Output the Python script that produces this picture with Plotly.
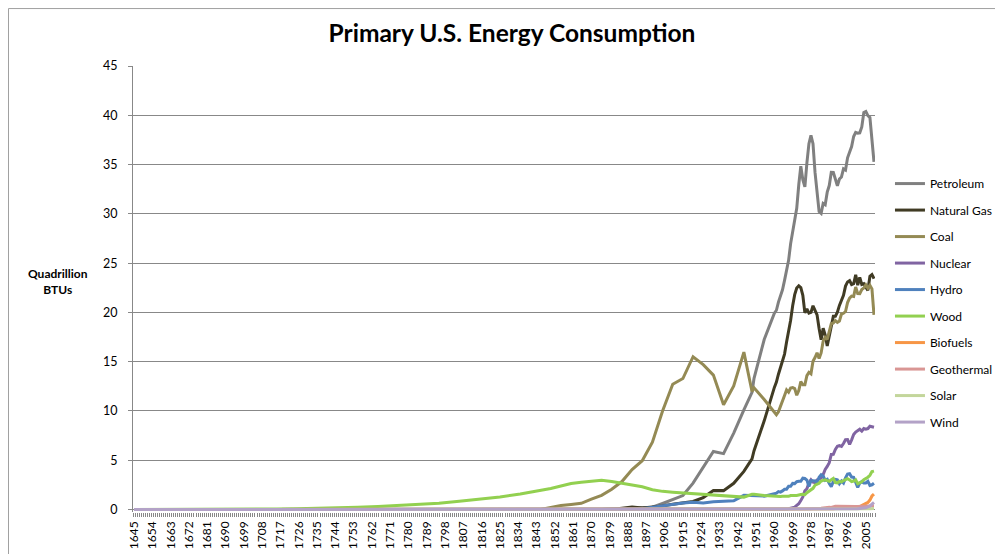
"""Primary U.S. energy consumption by source, 1645-2009 (Excel-style line chart)."""

import plotly.graph_objects as go

# Years that carry a value; the gaps between them are bridged by the line.
YEARS = [
    1645, 1655, 1665, 1675, 1685, 1695, 1705, 1715, 1725, 1735, 1745,
    1755, 1765, 1775, 1785, 1795, 1805, 1815, 1825, 1835, 1845,
    1850, 1855, 1860, 1865, 1870, 1875, 1880, 1885, 1890, 1895,
    1900, 1905, 1910, 1915, 1920, 1925, 1930, 1935, 1940, 1945,
    1949, 1950, 1955,
    1960, 1961, 1962, 1963, 1964, 1965, 1966, 1967, 1968, 1969,
    1970, 1971, 1972, 1973, 1974, 1975, 1976, 1977, 1978, 1979,
    1980, 1981, 1982, 1983, 1984, 1985, 1986, 1987, 1988, 1989,
    1990, 1991, 1992, 1993, 1994, 1995, 1996, 1997, 1998, 1999,
    2000, 2001, 2002, 2003, 2004, 2005, 2006, 2007, 2008, 2009,
]

TICK_YEARS = [
    1645, 1654, 1663, 1672, 1681, 1690, 1699, 1708, 1717, 1726, 1735,
    1744, 1753, 1762, 1771, 1780, 1789, 1798, 1807, 1816, 1825, 1834,
    1843, 1852, 1861, 1870, 1879, 1888, 1897, 1906, 1915, 1924, 1933,
    1942, 1951, 1960, 1969, 1978, 1987, 1996, 2005,
]

# quadrillion BTUs, aligned with YEARS
PETROLEUM = [
    0, 0, 0, 0, 0, 0, 0, 0, 0, 0, 0,
    0, 0, 0, 0, 0, 0, 0, 0, 0, 0,
    0, 0, 0.003, 0.006, 0.011, 0.011, 0.096, 0.04, 0.156, 0.168,
    0.229, 0.61, 1.007, 1.418, 2.676, 4.28, 5.897, 5.675, 7.76, 10.11,
    11.88, 13.32, 17.25,
    19.92, 20.22, 21.05, 21.70, 22.30, 23.25, 24.40, 25.28, 26.98, 28.34,
    29.52, 30.56, 32.95, 34.84, 33.46, 32.73, 35.18, 37.12, 37.97, 37.12,
    34.20, 31.93, 30.23, 30.05, 31.05, 30.92, 32.20, 32.87, 34.22, 34.21,
    33.55, 32.85, 33.53, 33.74, 34.56, 34.44, 35.68, 36.16, 36.82, 37.84,
    38.26, 38.19, 38.22, 38.81, 40.29, 40.39, 39.96, 39.77, 37.28, 35.27,
]
NATURAL_GAS = [
    0, 0, 0, 0, 0, 0, 0, 0, 0, 0, 0,
    0, 0, 0, 0, 0, 0, 0, 0, 0, 0,
    0, 0, 0, 0, 0, 0, 0, 0.143, 0.257, 0.147,
    0.252, 0.372, 0.54, 0.673, 0.813, 1.212, 1.932, 1.919, 2.665, 3.871,
    5.15, 5.97, 9.00,
    12.39, 12.93, 13.73, 14.40, 15.29, 15.77, 17.00, 17.94, 19.21, 20.68,
    21.80, 22.47, 22.70, 22.51, 21.73, 19.95, 20.35, 19.93, 20.00, 20.67,
    20.24, 19.75, 18.36, 17.22, 18.39, 17.70, 16.59, 17.64, 18.45, 19.60,
    19.60, 20.03, 20.71, 21.23, 21.73, 22.67, 23.09, 23.22, 22.83, 22.91,
    23.82, 22.77, 23.56, 22.83, 22.92, 22.56, 22.24, 23.66, 23.84, 23.42,
]
COAL = [
    0, 0, 0, 0, 0, 0, 0, 0, 0, 0, 0,
    0, 0, 0, 0, 0, 0, 0, 0, 0, 0,
    0.219, 0.421, 0.518, 0.632, 1.048, 1.44, 2.054, 2.84, 4.062, 4.95,
    6.841, 10.001, 12.714, 13.294, 15.504, 14.706, 13.639, 10.634, 12.535, 15.972,
    11.98, 12.35, 11.17,
    9.84, 9.62, 9.91, 10.41, 10.96, 11.58, 12.14, 11.91, 12.33, 12.38,
    12.27, 11.60, 12.08, 12.97, 12.66, 12.66, 13.58, 13.92, 13.77, 15.04,
    15.42, 15.91, 15.32, 15.89, 17.07, 17.48, 17.26, 18.01, 18.85, 18.93,
    19.17, 18.99, 19.12, 19.84, 19.91, 20.09, 21.00, 21.45, 21.66, 21.62,
    22.58, 21.91, 21.90, 22.32, 22.47, 22.80, 22.45, 22.75, 22.39, 19.76,
]
NUCLEAR = [
    0, 0, 0, 0, 0, 0, 0, 0, 0, 0, 0,
    0, 0, 0, 0, 0, 0, 0, 0, 0, 0,
    0, 0, 0, 0, 0, 0, 0, 0, 0, 0,
    0, 0, 0, 0, 0, 0, 0, 0, 0, 0,
    0, 0, 0,
    0.006, 0.02, 0.026, 0.038, 0.04, 0.043, 0.064, 0.088, 0.142, 0.154,
    0.239, 0.413, 0.584, 0.91, 1.272, 1.9, 2.111, 2.702, 3.024, 2.776,
    2.739, 3.008, 3.131, 3.203, 3.553, 4.076, 4.38, 4.754, 5.587, 5.602,
    6.104, 6.422, 6.479, 6.41, 6.694, 7.075, 7.087, 6.597, 7.068, 7.61,
    7.862, 8.029, 8.145, 7.96, 8.222, 8.161, 8.215, 8.455, 8.427, 8.356,
]
HYDRO = [
    0, 0, 0, 0, 0, 0, 0, 0, 0, 0, 0,
    0, 0, 0, 0, 0, 0, 0, 0, 0, 0,
    0, 0, 0, 0, 0, 0, 0, 0, 0.022, 0.09,
    0.25, 0.386, 0.539, 0.659, 0.738, 0.668, 0.785, 0.831, 0.88, 1.442,
    1.42, 1.42, 1.36,
    1.61, 1.66, 1.82, 1.77, 1.89, 2.06, 2.06, 2.35, 2.35, 2.65,
    2.63, 2.82, 2.86, 2.86, 3.18, 3.15, 2.98, 2.33, 2.94, 2.93,
    2.90, 2.76, 3.27, 3.53, 3.39, 2.97, 3.07, 2.63, 2.33, 2.84,
    3.05, 3.02, 2.62, 2.89, 2.68, 3.21, 3.59, 3.64, 3.30, 3.27,
    2.81, 2.24, 2.69, 2.83, 2.69, 2.70, 2.87, 2.45, 2.51, 2.67,
]
WOOD = [
    0.0, 0.0, 0.01, 0.01, 0.02, 0.03, 0.04, 0.06, 0.09, 0.12, 0.17,
    0.23, 0.31, 0.40, 0.51, 0.65, 0.83, 1.03, 1.28, 1.58, 1.93,
    2.138, 2.389, 2.641, 2.767, 2.893, 2.975, 2.851, 2.683, 2.515, 2.306,
    2.015, 1.843, 1.765, 1.688, 1.61, 1.533, 1.455, 1.397, 1.358, 1.261,
    1.55, 1.56, 1.42,
    1.32, 1.29, 1.30, 1.32, 1.34, 1.33, 1.37, 1.34, 1.42, 1.46,
    1.43, 1.43, 1.50, 1.53, 1.54, 1.50, 1.71, 1.84, 2.04, 2.15,
    2.48, 2.60, 2.66, 2.90, 2.97, 3.02, 2.93, 2.87, 3.02, 3.16,
    2.73, 2.71, 2.85, 2.80, 2.94, 3.07, 3.13, 3.01, 2.84, 2.89,
    3.01, 2.62, 2.71, 2.81, 3.02, 3.12, 3.28, 3.47, 3.85, 3.90,
]
BIOFUELS = [
    0, 0, 0, 0, 0, 0, 0, 0, 0, 0, 0,
    0, 0, 0, 0, 0, 0, 0, 0, 0, 0,
    0, 0, 0, 0, 0, 0, 0, 0, 0, 0,
    0, 0, 0, 0, 0, 0, 0, 0, 0, 0,
    0, 0, 0,
    0, 0, 0, 0, 0, 0, 0, 0, 0, 0,
    0, 0, 0, 0, 0, 0, 0, 0, 0, 0,
    0, 0.013, 0.019, 0.035, 0.043, 0.05, 0.064, 0.071, 0.069, 0.071,
    0.111, 0.12, 0.13, 0.15, 0.17, 0.198, 0.14, 0.16, 0.18, 0.19,
    0.233, 0.254, 0.308, 0.402, 0.487, 0.564, 0.72, 0.962, 1.372, 1.567,
]
GEOTHERMAL = [
    0, 0, 0, 0, 0, 0, 0, 0, 0, 0, 0,
    0, 0, 0, 0, 0, 0, 0, 0, 0, 0,
    0, 0, 0, 0, 0, 0, 0, 0, 0, 0,
    0, 0, 0, 0, 0, 0, 0, 0, 0, 0,
    0, 0, 0,
    0.001, 0.002, 0.002, 0.004, 0.004, 0.004, 0.004, 0.007, 0.007, 0.01,
    0.011, 0.012, 0.031, 0.043, 0.053, 0.07, 0.078, 0.077, 0.064, 0.084,
    0.11, 0.123, 0.105, 0.129, 0.165, 0.198, 0.219, 0.229, 0.217, 0.317,
    0.336, 0.346, 0.349, 0.364, 0.338, 0.294, 0.316, 0.325, 0.328, 0.331,
    0.317, 0.311, 0.328, 0.331, 0.341, 0.343, 0.343, 0.349, 0.358, 0.373,
]
SOLAR = [
    0, 0, 0, 0, 0, 0, 0, 0, 0, 0, 0,
    0, 0, 0, 0, 0, 0, 0, 0, 0, 0,
    0, 0, 0, 0, 0, 0, 0, 0, 0, 0,
    0, 0, 0, 0, 0, 0, 0, 0, 0, 0,
    0, 0, 0,
    0, 0, 0, 0, 0, 0, 0, 0, 0, 0,
    0, 0, 0, 0, 0, 0, 0, 0, 0, 0,
    0, 0, 0, 0, 0, 0, 0, 0, 0, 0.055,
    0.06, 0.063, 0.064, 0.066, 0.069, 0.07, 0.071, 0.07, 0.07, 0.069,
    0.066, 0.065, 0.063, 0.062, 0.063, 0.066, 0.072, 0.081, 0.097, 0.109,
]
WIND = [
    0, 0, 0, 0, 0, 0, 0, 0, 0, 0, 0,
    0, 0, 0, 0, 0, 0, 0, 0, 0, 0,
    0, 0, 0, 0, 0, 0, 0, 0, 0, 0,
    0, 0, 0, 0, 0, 0, 0, 0, 0, 0,
    0, 0, 0,
    0, 0, 0, 0, 0, 0, 0, 0, 0, 0,
    0, 0, 0, 0, 0, 0, 0, 0, 0, 0,
    0, 0, 0, 0, 0, 0, 0, 0, 0, 0.022,
    0.029, 0.031, 0.03, 0.031, 0.036, 0.033, 0.033, 0.034, 0.031, 0.046,
    0.057, 0.07, 0.105, 0.115, 0.142, 0.178, 0.264, 0.341, 0.546, 0.721,
]

SERIES = [
    ("Petroleum", PETROLEUM, "#808080"),
    ("Natural Gas", NATURAL_GAS, "#403B24"),
    ("Coal", COAL, "#948A54"),
    ("Nuclear", NUCLEAR, "#8064A2"),
    ("Hydro", HYDRO, "#4F81BD"),
    ("Wood", WOOD, "#92D050"),
    ("Biofuels", BIOFUELS, "#F79646"),
    ("Geothermal", GEOTHERMAL, "#D99694"),
    ("Solar", SOLAR, "#C3D69B"),
    ("Wind", WIND, "#B3A2C7"),
]

FONT = "Lato, 'Open Sans', sans-serif"
GRID = "#888888"

fig = go.Figure()
for name, values, color in SERIES:
    fig.add_trace(
        go.Scatter(
            x=YEARS,
            y=values,
            name=name,
            mode="lines",
            line={"color": color, "width": 3},
            legendgroup=name,
            connectgaps=True,
        )
    )

# the page adds an 8px body margin, so the figure is 8px smaller each way
fig.update_layout(
    width=995,
    height=546,
    margin={"l": 125, "r": 128, "t": 58, "b": 41.5, "autoexpand": False},
    paper_bgcolor="white",
    plot_bgcolor="white",
    font={"family": FONT, "color": "black", "size": 12},
    title={
        "text": "<b>Primary U.S. Energy Consumption</b>",
        "font": {"size": 24.5, "family": FONT, "color": "black"},
        "x": 0.5065,
        "xref": "container",
        "xanchor": "center",
        "y": 0.954,
        "yref": "container",
        "yanchor": "middle",
        "automargin": False,
    },
    legend={
        "x": 0.8864,
        "xref": "container",
        "xanchor": "left",
        "y": 0.705,
        "yref": "container",
        "yanchor": "top",
        "font": {"size": 12},
        "traceorder": "grouped",
        "tracegroupgap": 7.5,
        "bgcolor": "rgba(0,0,0,0)",
    },
    showlegend=True,
)
fig.update_xaxes(
    range=[1644.5, 2009.5],
    automargin=False,
    tickmode="array",
    tickvals=TICK_YEARS,
    ticktext=[str(year) for year in TICK_YEARS],
    tickangle=-90,
    ticks="",
    ticklabelstandoff=6,
    showgrid=False,
    zeroline=False,
    showline=False,
    minor={
        "ticks": "outside",
        "tickmode": "linear",
        "tick0": 1644.5,
        "dtick": 1,
        "ticklen": 4,
        "tickcolor": GRID,
        "showgrid": False,
    },
)
fig.update_yaxes(
    range=[-0.25, 45],
    automargin=False,
    tickmode="array",
    tickvals=[0, 5, 10, 15, 20, 25, 30, 35, 40, 45],
    tickfont={"size": 12.5},
    ticks="outside",
    ticklen=4,
    tickcolor=GRID,
    ticklabelstandoff=8,
    showgrid=True,
    gridcolor=GRID,
    gridwidth=1,
    zeroline=False,
    showline=True,
    linecolor=GRID,
)
fig.add_annotation(
    text="<b>Quadrillion<br>BTUs</b>",
    xref="paper",
    yref="paper",
    x=-0.101,
    y=0.516,
    xanchor="center",
    yanchor="middle",
    showarrow=False,
    font={"size": 12, "family": FONT},
)
# outer chart-area border (right and bottom edges fall outside the picture)
fig.add_shape(
    type="rect",
    xref="paper",
    yref="paper",
    x0=-0.1678,
    x1=1.2,
    y0=-0.12,
    y1=1.1288,
    line={"color": "#a0a0a0", "width": 1},
    layer="below",
)

fig.write_html("out.html")
